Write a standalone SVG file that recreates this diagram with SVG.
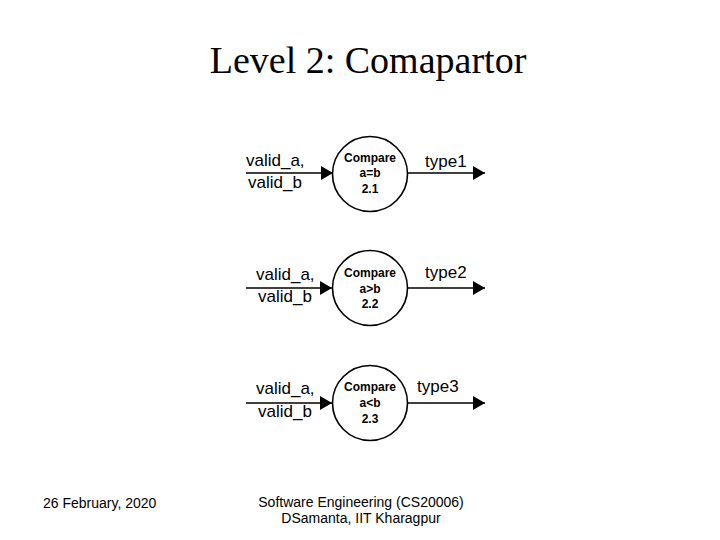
<svg xmlns="http://www.w3.org/2000/svg" width="720" height="540" viewBox="0 0 720 540">
<style>
.title{font-family:"Liberation Serif","Times New Roman",serif;font-size:38px;fill:#000}
.lbl{font-family:"Liberation Sans",Arial,sans-serif;font-size:17px;fill:#000}
.in{font-family:"Liberation Sans",Arial,sans-serif;font-size:12px;font-weight:bold;fill:#000;text-anchor:middle}
.foot{font-family:"Liberation Sans",Arial,sans-serif;font-size:14px;fill:#000}
.proc{fill:#fff;stroke:#000;stroke-width:1.6}
.flow{stroke:#000;stroke-width:1.6;fill:none;marker-end:url(#arr)}
</style>
<defs>
<marker id="arr" viewBox="0 0 12 14" refX="12" refY="7" markerWidth="12" markerHeight="14" markerUnits="userSpaceOnUse" orient="auto">
<path d="M0,0 L12,7 L0,14 Z" fill="#000"/>
</marker>
</defs>
<rect width="720" height="540" fill="#fff"/>
<text class="title" x="368" y="73" text-anchor="middle">Level 2: Comapartor</text>
<g id="connectors">
<line class="flow" x1="246" y1="173" x2="333" y2="173"/>
<line class="flow" x1="408" y1="173" x2="485" y2="173"/>
<line class="flow" x1="246" y1="288" x2="332" y2="288"/>
<line class="flow" x1="408" y1="288" x2="485" y2="288"/>
<line class="flow" x1="246" y1="403" x2="332" y2="403"/>
<line class="flow" x1="408" y1="403" x2="485" y2="403"/>
</g>
<g id="labels">
<text class="lbl" x="246" y="166">valid_a,</text>
<text class="lbl" x="248" y="188">valid_b</text>
<text class="lbl" x="425" y="167">type1</text>
<text class="lbl" x="256" y="280">valid_a,</text>
<text class="lbl" x="258" y="302">valid_b</text>
<text class="lbl" x="425" y="278">type2</text>
<text class="lbl" x="256" y="394">valid_a,</text>
<text class="lbl" x="258" y="417">valid_b</text>
<text class="lbl" x="417" y="392">type3</text>
</g>
<g id="p2_1">
<circle class="proc" cx="370" cy="174" r="37.5"/>
<text class="in" x="370" y="162">Compare</text>
<text class="in" x="370" y="177">a=b</text>
<text class="in" x="370" y="193">2.1</text>
</g>
<g id="p2_2">
<circle class="proc" cx="370" cy="288" r="37.5"/>
<text class="in" x="370" y="277">Compare</text>
<text class="in" x="370" y="293">a&gt;b</text>
<text class="in" x="370" y="308">2.2</text>
</g>
<g id="p2_3">
<circle class="proc" cx="370" cy="403" r="37.5"/>
<text class="in" x="370" y="391">Compare</text>
<text class="in" x="370" y="407">a&lt;b</text>
<text class="in" x="370" y="423">2.3</text>
</g>
<text class="foot" x="43" y="508">26 February, 2020</text>
<text class="foot" x="361" y="507" text-anchor="middle">Software Engineering (CS20006)</text>
<text class="foot" x="361" y="523" text-anchor="middle">DSamanta, IIT Kharagpur</text>
</svg>
